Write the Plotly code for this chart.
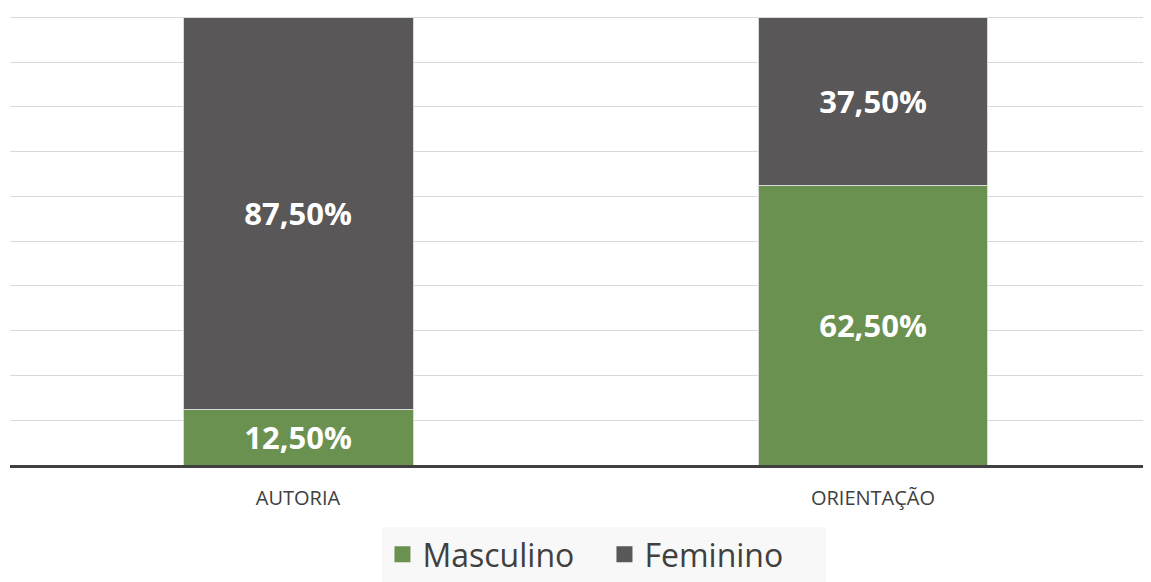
import plotly.graph_objs as go

# Masculino vs Feminino share for authorship and supervision
categorias = ['AUTORIA', 'ORIENTAÇÃO']
masculino = [12.5, 62.5]
feminino = [87.5, 37.5]

verde = '#6a914f'
cinza = '#595757'


def rotulo(v):
    return ('%.2f%%' % v).replace('.', ',')


def make_bar(nome, valores, cor):
    return go.Bar(
        x=categorias,
        y=valores,
        name=nome,
        legendgroup=nome,
        showlegend=False,
        width=0.4,
        marker=dict(color=cor, line=dict(color='#d9d9d9', width=1)),
        text=[rotulo(v) for v in valores],
        textposition='inside',
        insidetextanchor='middle',
        textangle=0,
        constraintext='none',
        textfont=dict(family='Open Sans', size=31, color='white', weight='bold'),
        hoverinfo='skip',
    )


def legend_entry(nome, cor):
    # empty trace only used to get a bigger square in the legend
    return go.Scatter(
        x=[None], y=[None],
        mode='markers',
        name=nome,
        legendgroup=nome,
        marker=dict(symbol='square', size=20, color=cor),
    )


data = [
    make_bar('Masculino', masculino, verde),
    make_bar('Feminino', feminino, cinza),
    legend_entry('Masculino', verde),
    legend_entry('Feminino', cinza),
]

layout = go.Layout(
    barmode='stack',
    width=1143,
    height=574,
    margin=dict(l=2, r=0, t=8, b=117),
    paper_bgcolor='white',
    plot_bgcolor='white',
    font=dict(family='Open Sans', color='#404040'),
    showlegend=True,
    xaxis=dict(
        range=[-0.5009, 1.4835],
        showline=True,
        linecolor='#404040',
        linewidth=3,
        showgrid=False,
        ticks='outside',
        ticklen=13,
        tickcolor='rgba(0,0,0,0)',
        tickfont=dict(size=20, color='#404040'),
    ),
    yaxis=dict(
        range=[0, 100.3],
        dtick=10,
        showgrid=True,
        gridcolor='#d9d9d9',
        gridwidth=1,
        zeroline=False,
        showticklabels=False,
        showline=False,
    ),
    legend=dict(
        orientation='h',
        x=0.521,
        xanchor='center',
        y=-0.139,
        yanchor='top',
        bgcolor='#f8f8f8',
        font=dict(size=32, color='#404040'),
        itemwidth=30,
        entrywidth=177,
        traceorder='normal',
    ),
)

fig = go.Figure(data=data, layout=layout)
fig.write_html('out.html')
